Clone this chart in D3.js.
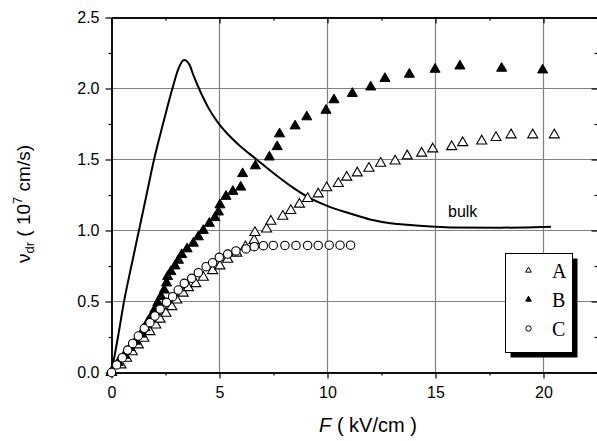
<!DOCTYPE html>
<html>
<head>
<meta charset="utf-8">
<script src="https://cdn.jsdelivr.net/npm/d3@7"></script>
<style>
  body { margin: 0; background: #fff; }
  svg { display: block; }
  .tick text { font-family: "Liberation Sans", Arial, sans-serif; font-size: 16px; fill: #000; }
  .axis path, .axis line { stroke: #000; }
</style>
</head>
<body>
<svg id="chart" width="597" height="441"></svg>
<script>
// bulk curve (F in kV/cm, v in 1e7 cm/s)
const bulkF = [0, 0.3, 0.58, 0.92, 1.27, 1.62, 1.97, 2.4, 2.82, 3.1, 3.36, 3.6, 3.8, 4.05, 4.5, 4.93, 5.5, 5.95, 6.72, 7.49, 8.42, 9.04, 10.04, 11.04, 11.97, 13.0, 13.67, 15.67, 18.0, 20.0, 20.35];
const bulkV = [0, 0.25, 0.5, 0.75, 1.0, 1.25, 1.5, 1.76, 2.0, 2.14, 2.2, 2.17, 2.09, 2.0, 1.86, 1.76, 1.66, 1.595, 1.5, 1.405, 1.3, 1.24, 1.17, 1.12, 1.078, 1.05, 1.04, 1.022, 1.02, 1.025, 1.027];

// sample A (open triangles)
const aF = [0, 0.44, 0.7, 0.96, 1.24, 1.5, 1.78, 2.05, 2.25, 2.52, 2.79, 3.02, 3.32, 3.56, 3.9, 4.25, 4.68, 5.02, 5.38, 5.8, 6.2, 6.6, 6.64, 7.18, 7.38, 7.93, 8.3, 8.7, 9.08, 9.57, 9.96, 10.5, 10.89, 11.38, 11.92, 12.46, 13.13, 13.69, 14.36, 14.87, 15.75, 16.26, 17.14, 17.8, 18.5, 19.5, 20.5];
const aV = [0, 0.053, 0.1, 0.146, 0.194, 0.241, 0.287, 0.334, 0.375, 0.417, 0.463, 0.51, 0.558, 0.597, 0.625, 0.67, 0.717, 0.75, 0.797, 0.84, 0.885, 0.93, 0.985, 1.01, 1.065, 1.1, 1.14, 1.185, 1.225, 1.257, 1.3, 1.33, 1.375, 1.405, 1.438, 1.473, 1.489, 1.525, 1.544, 1.574, 1.59, 1.618, 1.63, 1.654, 1.673, 1.673, 1.673];

// sample B (filled triangles)
const bF = [0, 0.31, 0.59, 0.86, 1.12, 1.37, 1.55, 1.7, 1.86, 2.01, 2.14, 2.29, 2.44, 2.55, 2.6, 2.75, 2.94, 3.1, 3.25, 3.5, 3.79, 4.02, 4.25, 4.53, 4.79, 4.95, 5.02, 5.3, 5.62, 5.98, 6.07, 6.66, 7.31, 7.67, 7.78, 8.5, 9.04, 9.93, 10.3, 11.15, 12.0, 12.66, 13.79, 14.98, 16.13, 18.06, 19.96];
const bV = [0, 0.07, 0.12, 0.175, 0.22, 0.27, 0.315, 0.36, 0.4, 0.445, 0.49, 0.535, 0.58, 0.63, 0.675, 0.71, 0.75, 0.79, 0.83, 0.87, 0.91, 0.955, 1.0, 1.05, 1.09, 1.13, 1.18, 1.24, 1.275, 1.305, 1.4, 1.455, 1.517, 1.59, 1.68, 1.736, 1.8, 1.846, 1.92, 1.965, 2.01, 2.07, 2.1, 2.135, 2.158, 2.142, 2.13];

// sample C (open circles)
const cF = [0, 0.24, 0.5, 0.75, 0.98, 1.24, 1.52, 1.78, 2.01, 2.25, 2.55, 2.83, 3.09, 3.37, 3.71, 4.02, 4.38, 4.68, 4.99, 5.38, 5.76, 6.23, 6.61, 7.03, 7.49, 8.03, 8.54, 9.08, 9.57, 10.08, 10.58, 11.07];
const cV = [0, 0.053, 0.104, 0.158, 0.205, 0.257, 0.311, 0.351, 0.398, 0.447, 0.494, 0.534, 0.581, 0.628, 0.663, 0.703, 0.745, 0.773, 0.811, 0.834, 0.856, 0.87, 0.886, 0.893, 0.895, 0.895, 0.895, 0.895, 0.895, 0.897, 0.897, 0.897];

const xMajor = [0, 5, 10, 15, 20];
const xMinor = [2.5, 7.5, 12.5, 17.5];
const yMajor = [0, 0.5, 1.0, 1.5, 2.0, 2.5];
const yMinor = [0.25, 0.75, 1.25, 1.75, 2.25];
const xGrid = [5, 10, 15, 20];
const yGrid = [0.5, 1.0, 1.5, 2.0];
const legendNames = ['A', 'B', 'C'];

const svg = d3.select('#chart');
const x = d3.scaleLinear().domain([0, 22.5]).range([111.5, 597.5]);
const y = d3.scaleLinear().domain([0, 2.5]).range([372.5, 17.5]);
const x0 = x.range()[0], x1 = x.range()[1], y0 = y.range()[0], y1 = y.range()[1];

const zip = (a, b) => a.map((d, i) => [d, b[i]]);

// grid
const grid = svg.append('g');
grid.selectAll('.gx').data(xGrid).enter().append('line')
    .attr('x1', d => x(d)).attr('x2', d => x(d)).attr('y1', y0).attr('y2', y1)
    .attr('stroke', '#808080').attr('stroke-width', 1.2);
grid.selectAll('.gy').data(yGrid).enter().append('line')
    .attr('y1', d => y(d)).attr('y2', d => y(d)).attr('x1', x0).attr('x2', x1)
    .attr('stroke', '#808080').attr('stroke-width', 1.2);

// axes
const fmtY = d3.format('.1f');
svg.append('g').attr('class', 'axis').attr('transform', `translate(0,${y0})`)
    .call(d3.axisBottom(x).tickValues(xMajor).tickSize(6).tickSizeOuter(0).tickPadding(8).tickFormat(d3.format('d')));
svg.append('g').attr('class', 'axis').attr('transform', `translate(0,${y0})`)
    .call(d3.axisBottom(x).tickValues(xMinor).tickSize(3).tickSizeOuter(0).tickFormat(''));
svg.append('g').attr('class', 'axis').attr('transform', `translate(0,${y1})`)
    .call(d3.axisTop(x).tickValues(xMajor).tickSize(-6).tickSizeOuter(0).tickFormat(''));
svg.append('g').attr('class', 'axis').attr('transform', `translate(0,${y1})`)
    .call(d3.axisTop(x).tickValues(xMinor).tickSize(-3).tickSizeOuter(0).tickFormat(''));
svg.append('g').attr('class', 'axis').attr('transform', `translate(${x0},0)`)
    .call(d3.axisLeft(y).tickValues(yMajor).tickSize(6).tickSizeOuter(0).tickPadding(6).tickFormat(fmtY));
svg.append('g').attr('class', 'axis').attr('transform', `translate(${x0},0)`)
    .call(d3.axisLeft(y).tickValues(yMinor).tickSize(3).tickSizeOuter(0).tickFormat(''));
svg.append('g').attr('class', 'axis').attr('transform', `translate(${x1},0)`)
    .call(d3.axisRight(y).tickValues(yMajor).tickSize(-6).tickSizeOuter(0).tickFormat(''));
svg.append('g').attr('class', 'axis').attr('transform', `translate(${x1},0)`)
    .call(d3.axisRight(y).tickValues(yMinor).tickSize(-3).tickSizeOuter(0).tickFormat(''));
svg.selectAll('.axis path').attr('stroke-width', 1.5);
svg.selectAll('.axis line').attr('stroke-width', 1.2);

// bulk curve
svg.append('path')
    .datum(zip(bulkF, bulkV))
    .attr('d', d3.line().x(d => x(d[0])).y(d => y(d[1])).curve(d3.curveMonotoneX))
    .attr('fill', 'none').attr('stroke', '#000').attr('stroke-width', 2);

svg.append('text').attr('x', 448).attr('y', 217)
    .attr('font-family', '"Liberation Sans", Arial, sans-serif').attr('font-size', 16)
    .text('bulk');

// markers
const tri = d3.symbol().type(d3.symbolTriangle).size(44);
const tri2 = d3.symbol().type(d3.symbolTriangle).size(14);

svg.append('g').selectAll('path').data(zip(aF, aV)).enter().append('path')
    .attr('d', tri).attr('transform', d => `translate(${x(d[0])},${y(d[1])})`)
    .attr('fill', '#fff').attr('stroke', '#000').attr('stroke-width', 1.1);
svg.append('g').selectAll('path').data(zip(bF, bV)).enter().append('path')
    .attr('d', tri).attr('transform', d => `translate(${x(d[0])},${y(d[1])})`)
    .attr('fill', '#000').attr('stroke', '#000').attr('stroke-width', 1);
svg.append('g').selectAll('circle').data(zip(cF, cV)).enter().append('circle')
    .attr('cx', d => x(d[0])).attr('cy', d => y(d[1])).attr('r', 4.2)
    .attr('fill', '#fff').attr('stroke', '#000').attr('stroke-width', 1.1);

// legend
const lg = svg.append('g');
lg.append('rect').attr('x', 510.5).attr('y', 258.5).attr('width', 67).attr('height', 99).attr('fill', '#000');
lg.append('rect').attr('x', 505.5).attr('y', 253.5).attr('width', 67).attr('height', 99)
    .attr('fill', '#fff').attr('stroke', '#000').attr('stroke-width', 1);
legendNames.forEach((name, i) => {
    const cy = 270.5 + i * 29;
    if (i < 2) {
        lg.append('path').attr('d', tri2).attr('transform', `translate(528.5,${cy})`)
            .attr('fill', i === 1 ? '#000' : '#fff').attr('stroke', '#000').attr('stroke-width', 1);
    } else {
        lg.append('circle').attr('cx', 528.5).attr('cy', cy).attr('r', 2.7)
            .attr('fill', '#fff').attr('stroke', '#000').attr('stroke-width', 1);
    }
    lg.append('text').attr('x', 552).attr('y', cy + 7)
        .attr('font-family', '"Liberation Serif", "Times New Roman", serif').attr('font-size', 20)
        .text(name);
});

// axis titles
const xt = svg.append('text').attr('x', 368).attr('y', 432).attr('text-anchor', 'middle')
    .attr('font-family', '"Liberation Sans", Arial, sans-serif').attr('font-size', 20);
xt.append('tspan').attr('font-style', 'italic').text('F');
xt.append('tspan').text(' ( kV/cm )');

const yt = svg.append('text').attr('transform', 'translate(30,204) rotate(-90)').attr('text-anchor', 'middle')
    .attr('font-family', '"Liberation Sans", Arial, sans-serif').attr('font-size', 19);
yt.append('tspan').text('ν');
yt.append('tspan').attr('font-size', 13).attr('dy', 4).text('dr');
yt.append('tspan').attr('dy', -4).text(' ( 10');
yt.append('tspan').attr('font-size', 13).attr('dy', -8).text('7');
yt.append('tspan').attr('dy', 8).text(' cm/s)');
</script>
</body>
</html>
